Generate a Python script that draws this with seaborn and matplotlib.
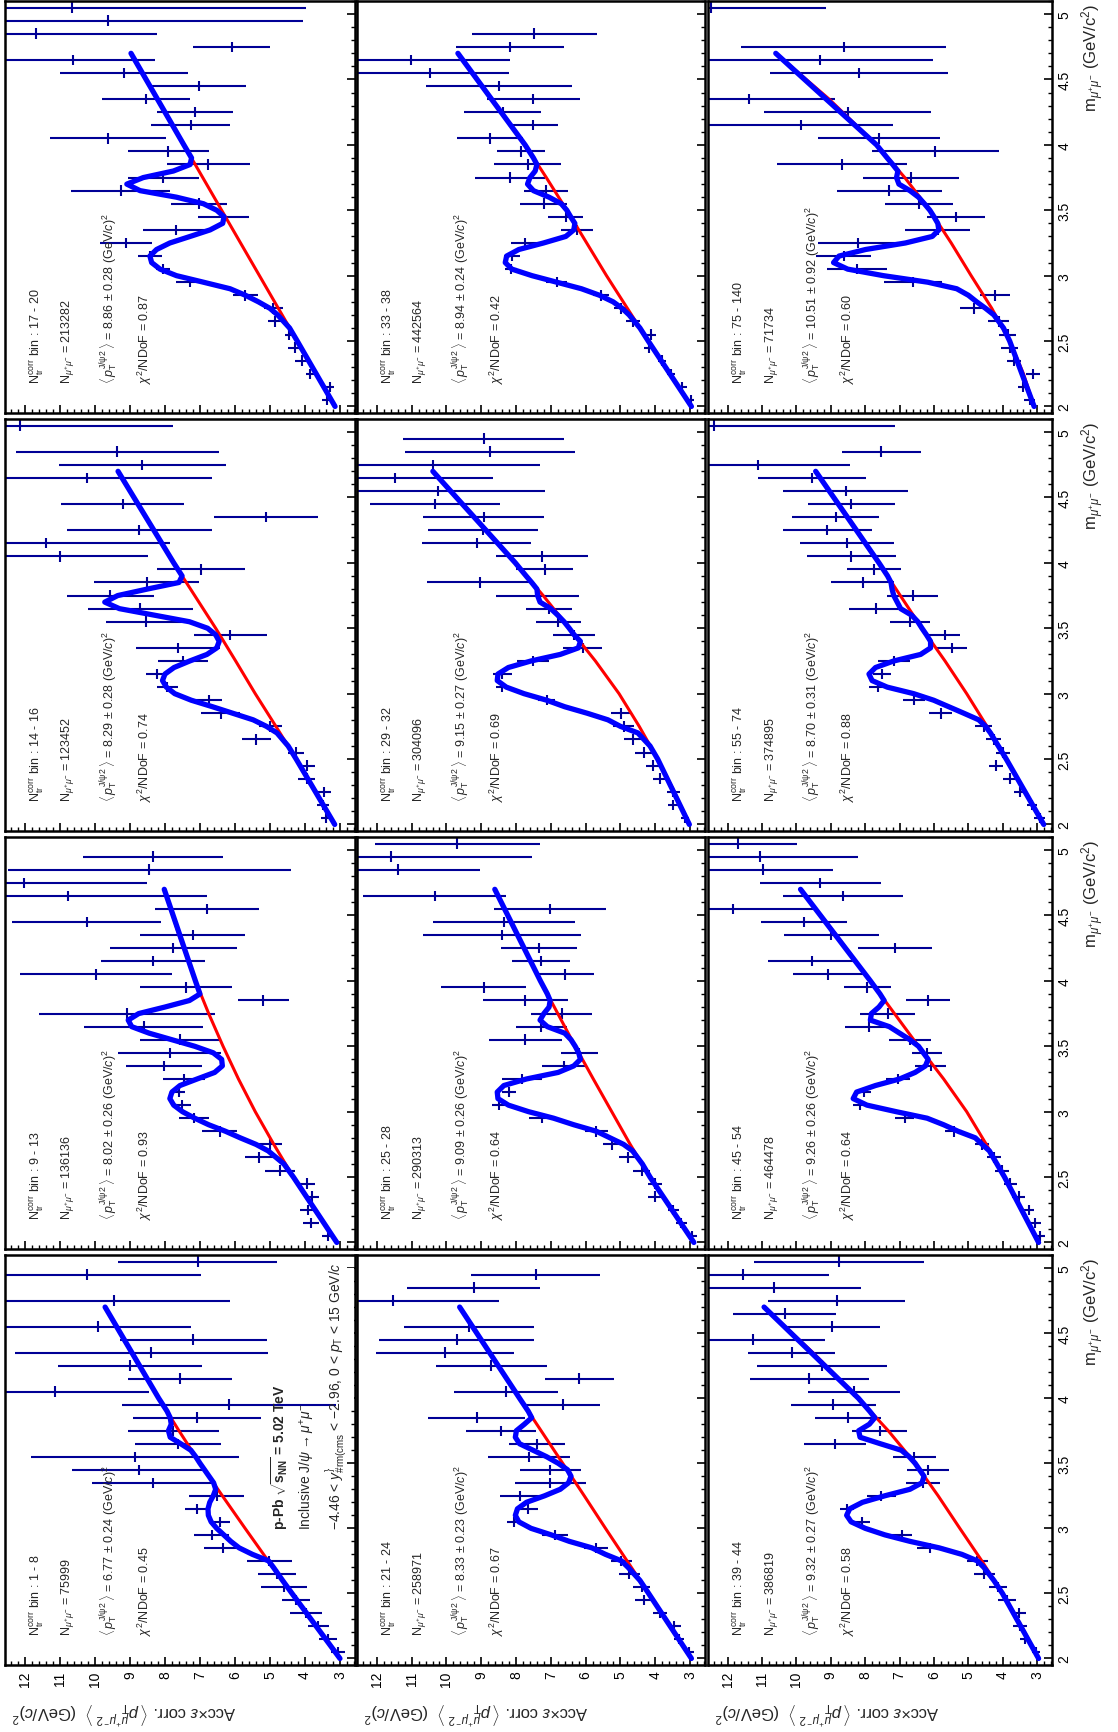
import numpy as np
import matplotlib
matplotlib.use("Agg")
import matplotlib.pyplot as plt
from matplotlib.ticker import MultipleLocator, FuncFormatter
from matplotlib.patches import Rectangle
import seaborn as sns

sns.set_style("ticks")
plt.rcParams['font.family'] = ['Liberation Sans', 'DejaVu Sans']
plt.rcParams['mathtext.fontset'] = 'custom'
plt.rcParams['mathtext.rm'] = 'Liberation Sans'
plt.rcParams['mathtext.it'] = 'Liberation Sans:italic'
plt.rcParams['mathtext.bf'] = 'Liberation Sans:bold'
plt.rcParams['mathtext.sf'] = 'Liberation Sans'

# bin centres of the dimuon mass (GeV/c^2)
m_bins = [2.05, 2.15, 2.25, 2.35, 2.45, 2.55, 2.65, 2.75, 2.85, 2.95, 3.05,
          3.15, 3.25, 3.35, 3.45, 3.55, 3.65, 3.75, 3.85, 3.95, 4.05, 4.15,
          4.25, 4.35, 4.45, 4.55, 4.65, 4.75, 4.85, 4.95, 5.05]
# points where the fit curves were read
m_fit = [2.0, 2.5, 2.6, 2.7, 2.75, 2.8, 2.85, 2.9, 2.95, 3.0, 3.05, 3.1, 3.15,
         3.2, 3.25, 3.3, 3.35, 3.4, 3.45, 3.5, 3.55, 3.6, 3.65, 3.7, 3.75, 3.8,
         3.85, 3.9, 4.0, 4.7]
m_bkg = [2.0, 2.25, 2.5, 2.75, 3.0, 3.25, 3.5, 3.75, 4.0, 4.35, 4.7]

# --- N_tr^corr bin 1-8
vals_1_8 = [3.05, 3.34, 3.62, 3.97, 4.25, 4.6, 4.8, 5.02, 6.35, 6.67, 6.43, 7.09, 6.52, 8.35, 8.74, 8.86,
            7.64, 7.76, 7.09, 6.17, 11.14, 7.57, 9.0, 8.41, 7.19, 9.92, None, 9.45, None, 10.24, 7.07]
errs_1_8 = [0.2, 0.25, 0.3, 0.45, 0.4, 0.65, 0.55, 0.65, 0.54, 0.5, 0.3, 0.34, 0.79, 1.74, 1.93, 2.98,
            1.23, 1.3, 1.83, 3.07, 2.67, 1.49, 2.05, 3.88, 2.1, 2.67, None, 3.32, None, 3.27, 2.27]
fit_1_8 = [3.0, 4.37, 4.64, 4.9, 5.04, 5.5, 5.88, 6.12, 6.32, 6.52, 6.68, 6.76, 6.77, 6.72, 6.62, 6.55,
           6.61, 6.74, 6.87, 7.0, 7.12, 7.26, 7.55, 7.85, 7.9, 7.82, 7.85, 7.94, 8.18, 9.71]
bkg_1_8 = [3.0, 3.7, 4.37, 5.05, 5.71, 6.36, 7.0, 7.6, 8.18, 8.96, 9.71]

# --- 9-13
vals_9_13 = [3.35, 3.83, 3.91, 3.80, 3.93, 4.71, 5.30, 5.00, 6.44, 7.18, 7.51, 7.60, 7.47, 8.02, 7.87, 7.57,
             8.61, 9.09, 5.19, 7.40, 9.97, 8.35, 7.76, 7.21, 10.23, 6.79, 10.78, 12.02, 8.45, 8.35, None]
errs_9_13 = [0.15, 0.22, 0.22, 0.2, 0.23, 0.43, 0.4, 0.35, 0.49, 0.43, 0.26, 0.18, 0.6, 1.09, 1.48, 1.14,
             1.69, 2.52, 0.72, 1.32, 2.18, 1.49, 1.81, 1.49, 2.13, 1.49, 3.99, 3.5, 4.04, 2.0, None]
fit_9_13 = [3.09, 4.33, 4.6, 5.05, 5.4, 5.85, 6.27, 6.75, 7.15, 7.5, 7.75, 7.86, 7.8, 7.57, 7.08, 6.58,
            6.36, 6.38, 6.62, 7.15, 7.8, 8.45, 8.95, 9.05, 8.75, 8.0, 7.3, 7.0, 7.13, 8.02]
bkg_9_13 = [3.09, 3.73, 4.33, 4.89, 5.42, 5.9, 6.34, 6.75, 7.13, 7.6, 8.02]

# --- 14-16
vals_14_16 = [3.39, 3.48, 3.45, 3.95, 3.93, 4.25, 5.39, 4.99, 6.41, 6.75, 7.94, 8.22, 7.49, 7.64, 6.13, 8.55,
              8.71, 9.56, 8.52, 6.97, 11.0, 11.39, 8.74, 5.12, 9.21, None, 10.24, 8.65, 9.36, None, 12.14]
errs_14_16 = [0.15, 0.18, 0.18, 0.25, 0.23, 0.23, 0.42, 0.33, 0.55, 0.37, 0.3, 0.32, 0.71, 1.2, 1.04, 1.13,
              1.5, 1.24, 1.5, 1.26, 2.51, 3.53, 2.07, 1.49, 1.76, None, 3.57, 2.39, 2.91, None, 4.37]
fit_14_16 = [3.15, 4.25, 4.48, 4.8, 5.1, 5.48, 6.06, 6.64, 7.25, 7.72, 7.96, 8.07, 8.0, 7.74, 7.29, 6.8,
             6.52, 6.45, 6.55, 6.78, 7.3, 8.3, 9.3, 9.72, 9.35, 8.5, 7.6, 7.51, 7.75, 9.34]
bkg_14_16 = [3.15, 3.7, 4.25, 4.83, 5.42, 5.98, 6.55, 7.15, 7.75, 8.55, 9.34]

# --- 17-20
vals_17_20 = [3.38, 3.28, 3.86, 4.09, 4.28, 4.45, 4.86, 4.90, 5.71, 7.28, 8.07, 8.43, 9.12, 7.69, 6.33, 7.03,
              9.27, 8.05, 6.76, 7.90, 9.62, 7.27, 7.14, 8.55, 7.03, 9.16, 10.62, 6.09, 11.68, 9.62, 10.67]
errs_17_20 = [0.12, 0.12, 0.12, 0.2, 0.2, 0.12, 0.2, 0.28, 0.36, 0.4, 0.2, 0.35, 0.75, 0.93, 0.74, 0.79,
              1.42, 1.02, 1.18, 1.17, 1.66, 1.12, 1.09, 1.26, 1.34, 1.83, 2.33, 1.10, 3.44, 5.57, 6.7]
fit_17_20 = [3.14, 4.22, 4.44, 4.78, 5.0, 5.33, 5.7, 6.14, 6.9, 7.67, 8.14, 8.38, 8.43, 8.24, 7.86, 7.28,
             6.71, 6.35, 6.31, 6.52, 6.9, 7.67, 8.71, 9.09, 8.62, 7.76, 7.28, 7.24, 7.46, 8.97]
bkg_17_20 = [3.14, 3.68, 4.22, 4.76, 5.3, 5.84, 6.38, 6.92, 7.46, 8.22, 8.97]

# --- 21-24
vals_21_24 = [3.02, 3.32, 3.45, 3.87, 4.32, 4.39, 4.75, 4.97, 5.71, 6.88, 8.05, 7.67, 7.89, 7.01, 7.01, 7.64,
              7.4, 8.44, 9.13, 6.66, 8.28, 6.18, 8.71, 10.04, 9.71, 9.35, None, 11.53, 9.22, 7.44, None]
errs_21_24 = [0.12, 0.15, 0.18, 0.2, 0.25, 0.25, 0.3, 0.3, 0.35, 0.37, 0.2, 0.3, 0.58, 1.03, 0.88, 1.18,
              0.8, 1.0, 1.4, 1.06, 1.49, 0.99, 1.6, 1.97, 2.23, 1.88, None, 3.05, 1.92, 1.86, None]
fit_21_24 = [2.96, 4.19, 4.44, 4.78, 4.97, 5.43, 5.82, 6.47, 6.99, 7.57, 7.92, 8.02, 7.96, 7.7, 7.18, 6.73,
             6.49, 6.42, 6.52, 6.79, 7.12, 7.51, 7.9, 8.02, 7.99, 7.76, 7.55, 7.65, 7.9, 9.62]
bkg_21_24 = [2.96, 3.58, 4.19, 4.81, 5.43, 6.04, 6.66, 7.28, 7.9, 8.76, 9.62]

# --- 25-28
vals_25_28 = [2.93, 3.25, 3.48, 4.0, 4.02, 4.39, 4.78, 5.23, 5.69, 7.25, 8.50, 8.19, 7.83, 6.62, 6.18, 7.73,
              7.27, 6.69, 7.74, 8.93, 6.60, 7.28, 7.34, 8.41, 8.35, 7.02, 10.34, None, 11.38, 11.60, 9.69]
errs_25_28 = [0.12, 0.15, 0.15, 0.2, 0.2, 0.25, 0.25, 0.27, 0.32, 0.39, 0.18, 0.2, 0.58, 0.64, 0.54, 1.06,
              0.73, 0.87, 1.22, 1.23, 0.85, 0.84, 1.1, 2.27, 2.04, 1.61, 2.05, None, 2.34, 4.05, 2.37]
fit_25_28 = [2.89, 4.15, 4.37, 4.65, 4.91, 5.3, 5.69, 6.34, 6.92, 7.64, 8.22, 8.52, 8.54, 8.35, 7.7, 6.79,
             6.34, 6.15, 6.2, 6.3, 6.42, 6.6, 7.1, 7.31, 7.2, 7.05, 7.02, 7.1, 7.3, 8.61]
bkg_25_28 = [2.89, 3.54, 4.15, 4.72, 5.25, 5.78, 6.3, 6.8, 7.3, 7.97, 8.61]

# --- 29-32
vals_29_32 = [3.15, 3.48, 3.48, 3.87, 4.06, 4.32, 4.65, 4.91, 4.97, 7.12, 8.39, 8.39, 7.51, 6.08, 6.34, 6.79,
              7.05, 7.38, 9.04, 7.18, 7.25, 9.13, 8.96, 8.93, 10.32, 10.23, 11.49, 10.39, 8.74, 8.93, None]
errs_29_32 = [0.12, 0.15, 0.18, 0.2, 0.2, 0.25, 0.25, 0.3, 0.3, 0.25, 0.2, 0.26, 0.47, 0.56, 0.61, 0.65,
              0.65, 1.19, 1.53, 0.82, 1.32, 1.56, 1.58, 1.73, 1.87, 3.05, 2.82, 3.08, 2.44, 2.31, None]
fit_29_32 = [3.02, 3.93, 4.15, 4.5, 5.0, 5.36, 5.95, 6.6, 7.12, 7.77, 8.28, 8.54, 8.52, 8.22, 7.57, 6.73,
             6.21, 6.15, 6.33, 6.47, 6.62, 6.8, 7.0, 7.31, 7.38, 7.4, 7.55, 7.71, 8.02, 10.39]
bkg_29_32 = [3.02, 3.45, 3.93, 4.46, 5.04, 5.72, 6.47, 7.22, 8.02, 9.18, 10.39]

# --- 33-38
vals_33_38 = [2.98, 3.22, 3.54, 3.80, 4.18, 4.12, 4.63, 4.99, 5.56, 6.83, 8.14, 8.12, 7.73, 6.25, 6.57, 7.21,
              7.15, 8.18, 7.67, 7.86, 8.76, 7.51, 8.38, 7.50, 8.48, 10.47, 11.02, 8.18, 7.47, None, None]
errs_33_38 = [0.1, 0.12, 0.12, 0.12, 0.15, 0.15, 0.2, 0.2, 0.22, 0.3, 0.18, 0.23, 0.42, 0.46, 0.5, 0.68,
              0.63, 1.0, 0.97, 0.69, 0.95, 0.71, 1.11, 1.34, 2.1, 2.26, 2.84, 1.55, 1.79, None, None]
fit_33_38 = [2.96, 4.2, 4.44, 4.75, 4.95, 5.21, 5.6, 6.12, 6.83, 7.54, 8.12, 8.31, 8.27, 7.92, 7.21, 6.57,
             6.34, 6.31, 6.43, 6.54, 6.7, 7.05, 7.5, 7.67, 7.6, 7.45, 7.4, 7.5, 7.74, 9.67]
bkg_33_38 = [2.96, 3.58, 4.2, 4.8, 5.4, 5.97, 6.54, 7.13, 7.74, 8.69, 9.67]

# --- 39-44
vals_39_44 = [3.03, 3.36, 3.49, 3.52, 3.88, 4.14, 4.54, 4.74, 6.11, 6.93, 8.08, 8.54, 7.53, 6.31, 6.18, 6.57,
              8.87, 7.58, 8.50, 8.93, 8.32, 9.62, 9.26, 10.14, 11.27, 8.96, 10.34, 8.83, 10.64, 11.56, 8.76]
errs_39_44 = [0.12, 0.15, 0.2, 0.2, 0.25, 0.25, 0.3, 0.3, 0.39, 0.3, 0.22, 0.2, 0.43, 0.49, 0.61, 0.62,
              0.9, 0.8, 0.96, 1.24, 1.33, 1.74, 1.88, 1.27, 2.11, 1.4, 1.5, 2.0, 2.51, 2.52, 2.46]
fit_39_44 = [2.96, 4.01, 4.26, 4.55, 4.74, 5.19, 5.85, 6.7, 7.43, 8.0, 8.41, 8.54, 8.45, 8.08, 7.43, 6.7,
             6.35, 6.29, 6.42, 6.55, 6.72, 6.95, 7.56, 8.15, 8.19, 7.88, 7.72, 7.87, 8.2, 10.94]
bkg_39_44 = [2.96, 3.46, 4.01, 4.61, 5.25, 5.88, 6.55, 7.33, 8.2, 9.52, 10.94]

# --- 45-54
vals_45_54 = [2.91, 3.05, 3.25, 3.54, 3.78, 4.02, 4.26, 4.6, 5.43, 6.85, 8.14, 8.04, 7.05, 6.10, 6.20, 6.70,
              7.89, 7.34, 6.17, 7.94, 9.08, 9.54, 7.14, 8.99, 9.78, 11.84, 8.65, 9.30, 10.96, 11.06, 11.70]
errs_45_54 = [0.15, 0.15, 0.15, 0.18, 0.18, 0.2, 0.2, 0.2, 0.25, 0.27, 0.22, 0.2, 0.36, 0.45, 0.44, 0.6,
              0.71, 0.8, 0.64, 0.68, 1.03, 1.28, 1.08, 1.38, 1.25, 2.35, 1.75, 1.77, 2.01, 2.85, 1.72]
fit_45_54 = [2.96, 3.95, 4.17, 4.39, 4.6, 4.8, 5.3, 5.72, 6.2, 7.1, 7.95, 8.35, 8.25, 7.7, 7.0, 6.55,
             6.25, 6.17, 6.31, 6.45, 6.7, 7.0, 7.3, 7.85, 7.82, 7.6, 7.45, 7.57, 7.85, 9.88]
bkg_45_54 = [2.96, 3.44, 3.95, 4.48, 5.05, 5.72, 6.45, 7.15, 7.85, 8.84, 9.88]

# --- 55-74
vals_55_74 = [2.93, 3.15, 3.49, 3.80, 4.19, 3.99, 4.26, 4.55, 5.81, 6.57, 7.62, 7.51, 7.17, 5.47, 5.69, 6.70,
              7.70, 6.62, 8.07, 7.75, 8.40, 8.54, 9.10, 8.86, 8.40, 8.57, 9.54, 11.12, 7.53, None, 12.40]
errs_55_74 = [0.15, 0.15, 0.18, 0.2, 0.2, 0.2, 0.22, 0.25, 0.34, 0.32, 0.27, 0.25, 0.47, 0.43, 0.45, 0.59,
              0.78, 0.74, 0.92, 0.79, 1.3, 1.37, 1.3, 1.27, 1.26, 1.81, 1.57, 2.69, 1.15, None, 5.26]
fit_55_74 = [2.81, 3.9, 4.13, 4.36, 4.5, 4.7, 5.13, 5.57, 6.01, 6.59, 7.36, 7.8, 7.89, 7.7, 7.17, 6.39,
             6.1, 6.1, 6.22, 6.35, 6.47, 6.65, 6.97, 7.07, 7.17, 7.22, 7.25, 7.35, 7.6, 9.44]
bkg_55_74 = [2.81, 3.34, 3.9, 4.46, 5.05, 5.68, 6.35, 6.98, 7.6, 8.5, 9.44]

# --- 75-140
vals_75_140 = [3.22, 3.41, 3.12, 3.67, 3.80, 3.86, 4.12, 4.85, 4.22, 6.61, 8.25, 8.63, 8.21, 5.89, 5.37, 6.44,
               7.30, 6.66, 8.67, 5.96, 7.60, 9.86, 8.51, 11.37, None, 8.18, 9.32, 8.63, None, None, 12.48]
errs_75_140 = [0.15, 0.15, 0.2, 0.2, 0.25, 0.25, 0.3, 0.39, 0.43, 0.84, 0.87, 0.8, 1.15, 0.94, 0.84, 0.99,
               1.52, 1.39, 1.88, 1.85, 1.77, 2.68, 2.42, 2.48, None, 2.6, 3.29, 2.98, None, None, 3.35]
fit_75_140 = [3.09, 3.8, 3.98, 4.26, 4.5, 4.76, 5.0, 5.34, 6.18, 7.47, 8.51, 8.92, 8.76, 7.99, 6.83, 6.05,
              5.86, 5.89, 6.0, 6.12, 6.28, 6.45, 6.7, 7.02, 7.09, 7.05, 7.2, 7.36, 7.67, 10.6]
bkg_75_140 = [3.09, 3.4, 3.8, 4.32, 4.92, 5.5, 6.12, 6.85, 7.67, 9.05, 10.6]

bin_labels = ["1 - 8", "9 - 13", "14 - 16", "17 - 20", "21 - 24", "25 - 28",
              "29 - 32", "33 - 38", "39 - 44", "45 - 54", "55 - 74", "75 - 140"]
n_mumu = ["75999", "136136", "123452", "213282", "258971", "290313",
          "304096", "442564", "386819", "464478", "374895", "71734"]
mean_pt2 = ["6.77", "8.02", "8.29", "8.86", "8.33", "9.09",
            "9.15", "8.94", "9.32", "9.26", "8.70", "10.51"]
mean_err = ["0.24", "0.26", "0.28", "0.28", "0.23", "0.26",
            "0.27", "0.24", "0.27", "0.26", "0.31", "0.92"]
chi2_ndof = ["0.45", "0.93", "0.74", "0.87", "0.67", "0.64",
             "0.69", "0.42", "0.58", "0.64", "0.88", "0.60"]

all_vals = [vals_1_8, vals_9_13, vals_14_16, vals_17_20, vals_21_24, vals_25_28,
            vals_29_32, vals_33_38, vals_39_44, vals_45_54, vals_55_74, vals_75_140]
all_errs = [errs_1_8, errs_9_13, errs_14_16, errs_17_20, errs_21_24, errs_25_28,
            errs_29_32, errs_33_38, errs_39_44, errs_45_54, errs_55_74, errs_75_140]
all_fit = [fit_1_8, fit_9_13, fit_14_16, fit_17_20, fit_21_24, fit_25_28,
           fit_29_32, fit_33_38, fit_39_44, fit_45_54, fit_55_74, fit_75_140]
all_bkg = [bkg_1_8, bkg_9_13, bkg_14_16, bkg_17_20, bkg_21_24, bkg_25_28,
           bkg_29_32, bkg_33_38, bkg_39_44, bkg_45_54, bkg_55_74, bkg_75_140]

W, H = 1118, 1733
COL_X = [5, 357, 708]
COL_W = [350, 348, 344]
ROW_Y = [2, 420, 838, 1256]
ROW_H = [412, 412, 412, 410]

DATA_COL = '#000096'
FIT_COL = '#0000ff'
BKG_COL = '#ff0000'


def to_arr(lst):
    return np.array([np.nan if v is None else v for v in lst], dtype=float)


fig = plt.figure(figsize=(W / 100, H / 100), dpi=100)

for i in range(12):
    col = i // 4
    row = 3 - i % 4
    x0, w = COL_X[col], COL_W[col]
    y0, h = ROW_Y[row], ROW_H[row]
    ax = fig.add_axes([x0 / W, 1 - (y0 + h) / H, w / W, h / H])

    ax.errorbar(to_arr(all_vals[i]), m_bins, xerr=to_arr(all_errs[i]), yerr=0.04,
                fmt='none', ecolor=DATA_COL, elinewidth=1.5, capsize=0, zorder=2)
    sns.lineplot(x=all_bkg[i], y=m_bkg, color=BKG_COL, linewidth=2.2, sort=False,
                 estimator=None, orient='y', ax=ax, zorder=3)
    sns.lineplot(x=all_fit[i], y=m_fit, color=FIT_COL, linewidth=3.8, sort=False,
                 estimator=None, orient='y', ax=ax, zorder=4,
                 solid_joinstyle='round')

    ax.set_xlim(12.57, 2.57)
    ax.set_ylim(1.95, 5.1)
    ax.set_xlabel('')
    ax.set_ylabel('')

    ax.xaxis.set_major_locator(MultipleLocator(1))
    ax.xaxis.set_minor_locator(MultipleLocator(0.2))
    ax.yaxis.set_major_locator(MultipleLocator(0.5))
    ax.yaxis.set_minor_locator(MultipleLocator(0.1))
    ax.xaxis.set_major_formatter(FuncFormatter(lambda v, p: f"{v:g}"))
    ax.yaxis.set_major_formatter(FuncFormatter(lambda v, p: f"{v:g}"))
    ax.yaxis.tick_right()
    ax.tick_params(axis='both', which='both', direction='in', colors='black')
    ax.tick_params(axis='x', which='both', bottom=True, top=False,
                   labelbottom=(row == 3), labelrotation=90, labelsize=10, pad=4)
    ax.tick_params(axis='y', which='both', left=False, right=True, labelleft=False,
                   labelright=(col == 2), labelrotation=90, labelsize=10, pad=4)
    ax.tick_params(which='major', length=6, width=1.2)
    ax.tick_params(which='minor', length=3, width=1.0)
    for lab in ax.get_yticklabels():
        lab.set_va('center')
    for s in ax.spines.values():
        s.set_linewidth(1.8)
        s.set_color('black')

    lines = [
        r"N$_{\rm tr}^{\rm corr}$ bin : " + bin_labels[i],
        r"N$_{\mu^{+}\mu^{-}}$ = " + n_mumu[i],
        r"$\langle\, p_{\rm T}^{\rm J/\psi 2} \,\rangle$ = " + mean_pt2[i]
        + r" $\pm$ " + mean_err[i] + r" (GeV/$c$)$^{2}$",
        r"$\chi^{2}$/NDoF = " + chi2_ndof[i],
    ]
    for line, off in zip(lines, [31, 63, 104, 140]):
        ax.text(off / w, 30 / h, line, transform=ax.transAxes, rotation=90,
                rotation_mode='anchor', ha='left', va='center', fontsize=9,
                zorder=6)

    if i == 0:
        ax.add_patch(Rectangle((2.6, 3.98), 2.45, 1.02, facecolor='white',
                               edgecolor='none', zorder=2.5))
        big = [
            (0.786, r"p-Pb $\sqrt{\mathbf{s}_{\mathbf{NN}}}$ = 5.02 TeV", 'bold'),
            (0.865, r"Inclusive J/$\psi\rightarrow\mu^{+}\mu^{-}$", 'normal'),
            (0.945, r"$-$4.46 < $y_{\#{\rm rm(cms}}^{\}}$ < $-$2.96, 0 < $p_{\rm T}$ < 15 GeV/$c$", 'normal'),
        ]
        for bx, txt, wt in big:
            ax.text(bx, 0.332, txt, transform=ax.transAxes, rotation=90,
                    rotation_mode='anchor', ha='left', va='center', fontsize=10,
                    fontweight=wt, zorder=6)

# x-axis titles (dimuon mass), one per row on the right
for row in range(4):
    fig.text(1093 / W, 1 - (ROW_Y[row] + 2) / H,
             r"m$_{\mu^{+}\mu^{-}}$ (GeV/c$^{2}$)", rotation=90,
             rotation_mode='anchor', ha='right', va='center', fontsize=12)

# y-axis titles, upside down below each column
ytitle = (r"Acc$\times\varepsilon$ corr. $\langle\, p_{\rm T}^{\mu^{+}\mu^{-}\,2}\,\rangle$"
          r"  (GeV/$c$)$^{2}$")
for col in range(3):
    fig.text((COL_X[col] + 6) / W, 1 - 1713 / H, ytitle, rotation=180,
             rotation_mode='anchor', ha='right', va='center', fontsize=12)

fig.savefig("out.png", dpi=100, facecolor='white')
